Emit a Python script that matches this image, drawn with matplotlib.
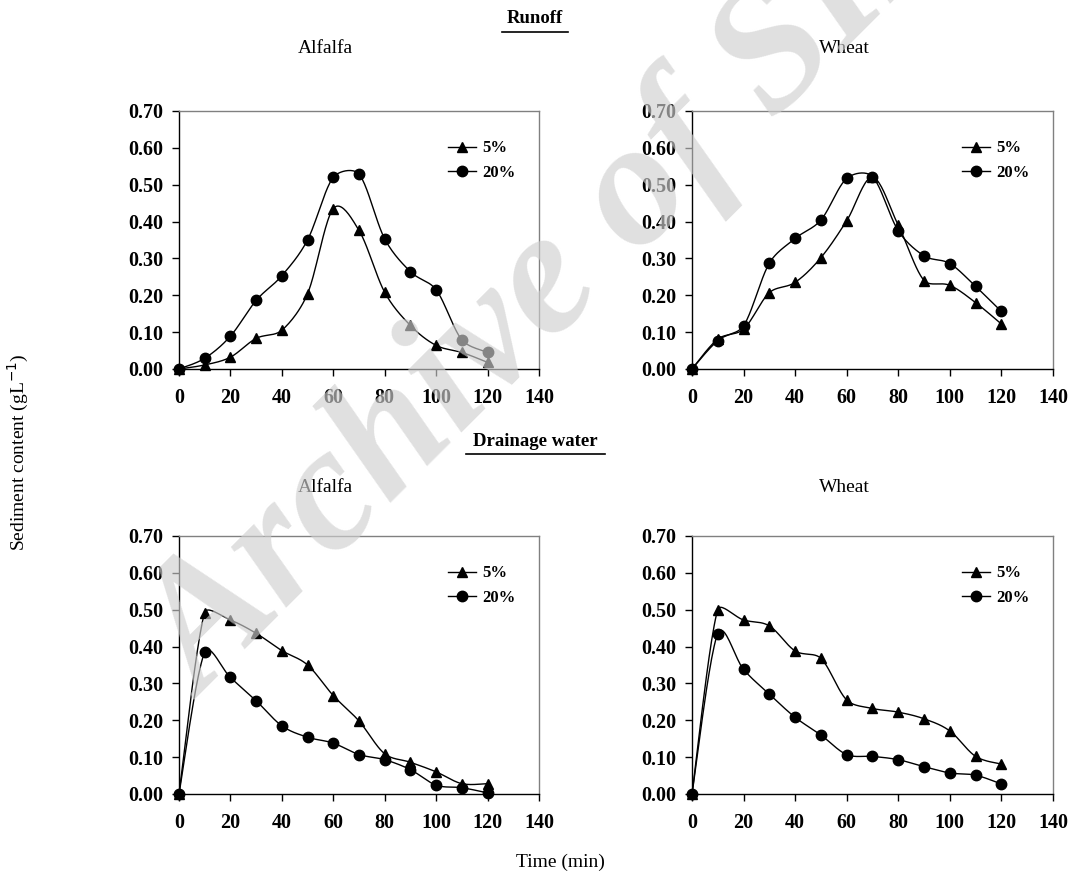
import numpy as np
import matplotlib.pyplot as plt

plt.rcParams['font.family'] = ['Liberation Serif', 'DejaVu Serif']

time = [0, 10, 20, 30, 40, 50, 60, 70, 80, 90, 100, 110, 120]

# Runoff
run_alf_5 = [0.0, 0.011, 0.032, 0.083, 0.105, 0.204, 0.435, 0.376, 0.208, 0.118, 0.064, 0.045, 0.018]
run_alf_20 = [0.0, 0.029, 0.089, 0.186, 0.253, 0.350, 0.520, 0.529, 0.353, 0.264, 0.215, 0.079, 0.045]
run_wht_5 = [0.0, 0.081, 0.108, 0.207, 0.235, 0.302, 0.402, 0.520, 0.390, 0.240, 0.227, 0.180, 0.122]
run_wht_20 = [0.0, 0.077, 0.117, 0.287, 0.354, 0.404, 0.517, 0.522, 0.375, 0.307, 0.286, 0.224, 0.156]

# Drainage water
dr_alf_5 = [0.0, 0.492, 0.472, 0.436, 0.389, 0.350, 0.267, 0.198, 0.109, 0.086, 0.060, 0.028, 0.028]
dr_alf_20 = [0.0, 0.384, 0.316, 0.253, 0.185, 0.154, 0.138, 0.107, 0.093, 0.066, 0.024, 0.017, 0.003]
dr_wht_5 = [0.0, 0.500, 0.472, 0.456, 0.388, 0.368, 0.255, 0.232, 0.222, 0.204, 0.171, 0.102, 0.081]
dr_wht_20 = [0.0, 0.435, 0.338, 0.271, 0.208, 0.160, 0.107, 0.102, 0.093, 0.074, 0.057, 0.051, 0.027]


def smooth(x, y, n=24, xr=140.0, yr=0.7):
    # Bezier curve through the points, like a spreadsheet "smoothed line"
    p = np.column_stack([np.asarray(x, float) / xr, np.asarray(y, float) / yr])
    p = np.vstack([p[:1], p, p[-1:]])
    t = np.linspace(0, 1, n)[:, None]
    out = []
    for i in range(1, len(p) - 2):
        p0, p1, p2, p3 = p[i - 1], p[i], p[i + 1], p[i + 2]
        seg = np.linalg.norm(p2 - p1)
        d1 = (p2 - p0) / 6
        d2 = (p3 - p1) / 6
        lim = 0.4 * seg
        if np.linalg.norm(d1) > lim:
            d1 = d1 * lim / np.linalg.norm(d1)
        if np.linalg.norm(d2) > lim:
            d2 = d2 * lim / np.linalg.norm(d2)
        c1, c2 = p1 + d1, p2 - d2
        b = (1 - t) ** 3 * p1 + 3 * (1 - t) ** 2 * t * c1 + 3 * (1 - t) * t ** 2 * c2 + t ** 3 * p2
        out.append(b)
    out = np.vstack(out)
    return out[:, 0] * xr, out[:, 1] * yr


fig = plt.figure(figsize=(10.69, 8.75), dpi=100)

positions = [
    [0.1674, 0.5783, 0.3368, 0.2949],
    [0.6473, 0.5783, 0.3377, 0.2949],
    [0.1674, 0.0926, 0.3368, 0.2949],
    [0.6473, 0.0926, 0.3377, 0.2949],
]
panels = [(run_alf_5, run_alf_20), (run_wht_5, run_wht_20),
          (dr_alf_5, dr_alf_20), (dr_wht_5, dr_wht_20)]

yticks = np.arange(0, 0.71, 0.1)

for pos, (s5, s20) in zip(positions, panels):
    ax = fig.add_axes(pos)
    for vals, mk, lab in [(s5, '^', '5%'), (s20, 'o', '20%')]:
        sx, sy = smooth(time, vals)
        ax.plot(sx, sy, color='black', lw=1.0, clip_on=False)
        ax.plot(time, vals, linestyle='none', marker=mk, color='black', markersize=7.5,
                clip_on=False, zorder=3)
        ax.plot([], [], color='black', lw=1.0, marker=mk, markersize=7.5, label=lab)
    ax.set_xlim(0, 140)
    ax.set_ylim(0, 0.70)
    ax.set_xticks(range(0, 141, 20))
    ax.set_yticks(yticks)
    ax.set_yticklabels([f"{v:.2f}" for v in yticks])
    ax.tick_params(direction='out', length=5, width=1, labelsize=14.5)
    ax.tick_params(axis='y', pad=6)
    ax.tick_params(axis='x', pad=9)
    for lbl in ax.get_xticklabels() + ax.get_yticklabels():
        lbl.set_fontweight('bold')
    ax.spines['top'].set_color('#808080')
    ax.spines['right'].set_color('#808080')
    for sp in ax.spines.values():
        sp.set_linewidth(1.0)
    leg = ax.legend(loc='upper left', frameon=False, fontsize=12,
                    handlelength=1.7, handletextpad=0.35, labelspacing=0.5,
                    borderpad=0, borderaxespad=0, bbox_to_anchor=(0.747, 0.886))
    for t in leg.get_texts():
        t.set_fontweight('bold')

fig.text(0.5005, 0.979, 'Runoff', ha='center', va='center', fontsize=13.5, fontweight='bold')
fig.text(0.5005, 0.496, 'Drainage water', ha='center', va='center', fontsize=13.5, fontweight='bold')
# underline for section headings
fig.add_artist(plt.Line2D([0.470, 0.531], [0.963, 0.963], color='black', lw=1.2))
fig.add_artist(plt.Line2D([0.436, 0.566], [0.481, 0.481], color='black', lw=1.2))

for x, y, s in [(0.304, 0.945, 'Alfalfa'), (0.790, 0.945, 'Wheat'),
                (0.304, 0.443, 'Alfalfa'), (0.790, 0.443, 'Wheat')]:
    fig.text(x, y, s, ha='center', va='center', fontsize=14)

fig.text(0.524, 0.015, 'Time (min)', ha='center', va='center', fontsize=14)
fig.text(0.017, 0.483, 'Sediment content (gL$^{-1}$)', ha='center', va='center',
         rotation=90, fontsize=14)

# watermark
fig.text(0.19, 0.20, 'Archive of SID', ha='left', va='baseline', rotation=45,
         rotation_mode='anchor', fontsize=128, fontweight='bold', fontstyle='italic',
         color='#cfcfcf', alpha=0.65)

fig.savefig('out.png', dpi=100)
